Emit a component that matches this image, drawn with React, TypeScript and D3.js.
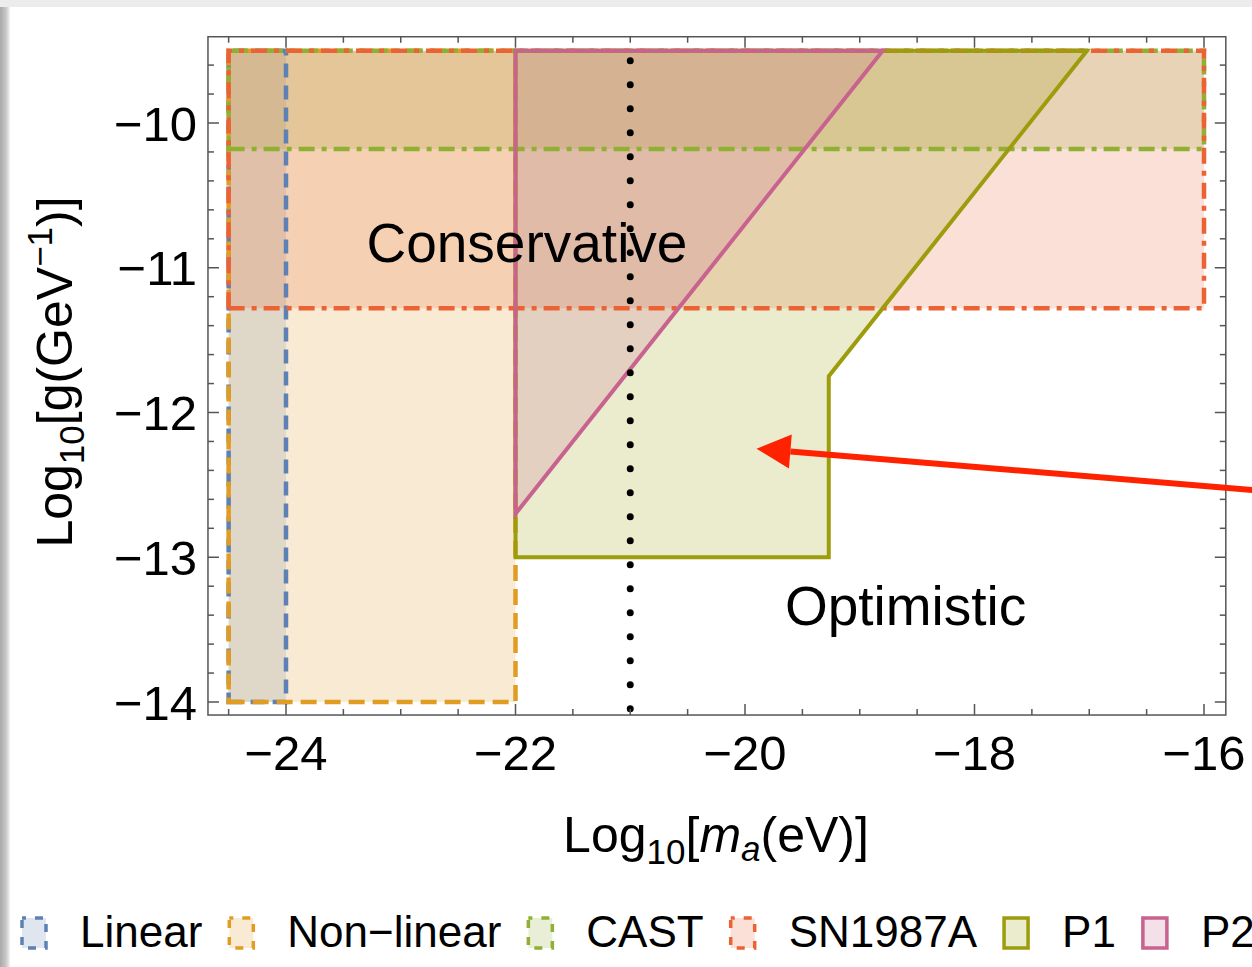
import React, { useRef, useEffect } from 'react';
import * as d3 from 'd3';

const W = 1252;
const H = 967;

// legend order
const regionNames = ['Linear', 'Non\u2212linear', 'CAST', 'SN1987A', 'P1', 'P2'];
const regionColors = ['#5e81b5', '#e19c24', '#8fb032', '#eb6235', '#9c9c0c', '#c8628f'];
const regionDash = ['14,8', '16,8', '16,7,5,7', '16,7,5,7', null, null];

// region outlines: log10 m_a (eV) and log10 g (GeV^-1)
const linearMa = [-24.5, -24, -24, -24.5];
const linearG = [-14, -14, -9.5, -9.5];
const nonlinearMa = [-24.5, -22, -22, -24.5];
const nonlinearG = [-14, -14, -9.5, -9.5];
const castMa = [-24.5, -16, -16, -24.5];
const castG = [-10.18, -10.18, -9.5, -9.5];
const snMa = [-24.5, -16, -16, -24.5];
const snG = [-11.28, -11.28, -9.5, -9.5];
const p1Ma = [-22, -19.27, -19.27, -17.02, -22];
const p1G = [-13, -13, -11.75, -9.5, -9.5];
const p2Ma = [-22, -18.8, -22];
const p2G = [-12.7, -9.5, -9.5];

const regionMa = [linearMa, nonlinearMa, castMa, snMa, p1Ma, p2Ma];
const regionG = [linearG, nonlinearG, castG, snG, p1G, p2G];

// dotted reference mass
const refMa = -21;

// axes
const xTicks = [-24, -22, -20, -18, -16];
const yTicks = [-14, -13, -12, -11, -10];

// annotations (data coords)
const notes = ['Conservative', 'Optimistic'];
const noteMa = [-21.9, -18.6];
const noteG = [-10.96, -13.47];
const arrowTip = [-19.9, -12.25];
const arrowTail = [-15.5, -12.54];

const FONT = '"Liberation Sans", Arial, Helvetica, sans-serif';
const minus = (v: number) => (v < 0 ? '\u2212' + Math.abs(v) : String(v));

const App = () => {
  const ref = useRef<SVGSVGElement>(null);

  useEffect(() => {
    const svg = d3.select(ref.current);
    svg.selectAll('*').remove();

    const x = d3.scaleLinear().domain([-24, -16]).range([286, 1204]);
    const y = d3.scaleLinear().domain([-14, -10]).range([702, 123]);
    const x0 = x(-24.68), x1 = x(-15.81);
    const y0 = y(-14.09), y1 = y(-9.404);

    // screenshot border
    const defs = svg.append('defs');
    const gr = defs.append('linearGradient').attr('id', 'edge');
    gr.append('stop').attr('offset', '0%').attr('stop-color', '#a9a9a9');
    gr.append('stop').attr('offset', '60%').attr('stop-color', '#c8c8c8');
    gr.append('stop').attr('offset', '100%').attr('stop-color', '#f4f4f4');
    svg.append('rect').attr('width', W).attr('height', H).attr('fill', '#fff');
    svg.append('rect').attr('width', W).attr('height', 7).attr('fill', '#ececec');
    svg.append('rect').attr('y', 7).attr('width', 10).attr('height', H - 7).attr('fill', 'url(#edge)');

    const line = d3.line<[number, number]>().x(d => x(d[0])).y(d => y(d[1]));
    const pts = (i: number) => regionMa[i].map((m, j) => [m, regionG[i][j]] as [number, number]);

    const plot = svg.append('g');
    regionNames.forEach((_, i) => {
      plot.append('path')
        .attr('d', line(pts(i)) + 'Z')
        .attr('fill', regionColors[i])
        .attr('fill-opacity', 0.2)
        .attr('stroke', 'none');
    });
    regionNames.forEach((_, i) => {
      plot.append('path')
        .attr('d', line(pts(i)) + 'Z')
        .attr('fill', 'none')
        .attr('stroke', regionColors[i])
        .attr('stroke-width', regionDash[i] ? 4.5 : 4)
        .attr('stroke-dasharray', regionDash[i] || null)
        .attr('stroke-linejoin', 'miter');
    });

    // dotted line
    plot.append('line')
      .attr('x1', x(refMa)).attr('x2', x(refMa))
      .attr('y1', y(-9.5) + 10).attr('y2', y0)
      .attr('stroke', '#000').attr('stroke-width', 7)
      .attr('stroke-linecap', 'round').attr('stroke-dasharray', '0,24');

    // frame
    const frame = svg.append('g').attr('stroke', '#555').attr('stroke-width', 1.5);
    frame.append('rect').attr('x', x0).attr('y', y1).attr('width', x1 - x0).attr('height', y0 - y1).attr('fill', 'none');
    const xMinor = d3.range(-24.5, -15.99, 0.5);
    const yMinor = d3.range(-14, -9.41, 0.2);
    xMinor.forEach(v => {
      const len = xTicks.some(t => Math.abs(t - v) < 1e-6) ? 11 : 6;
      frame.append('line').attr('x1', x(v)).attr('x2', x(v)).attr('y1', y0).attr('y2', y0 - len);
      frame.append('line').attr('x1', x(v)).attr('x2', x(v)).attr('y1', y1).attr('y2', y1 + len);
    });
    yMinor.forEach(v => {
      const len = yTicks.some(t => Math.abs(t - v) < 1e-6) ? 11 : 6;
      frame.append('line').attr('y1', y(v)).attr('y2', y(v)).attr('x1', x0).attr('x2', x0 + len);
      frame.append('line').attr('y1', y(v)).attr('y2', y(v)).attr('x1', x1).attr('x2', x1 - len);
    });

    const txt = svg.append('g').attr('font-family', FONT).attr('fill', '#000');
    xTicks.forEach(v => {
      txt.append('text').attr('x', x(v)).attr('y', 770).attr('text-anchor', 'middle')
        .attr('font-size', 49).text(minus(v));
    });
    yTicks.forEach(v => {
      txt.append('text').attr('x', 197).attr('y', y(v)).attr('dy', '0.36em').attr('text-anchor', 'end')
        .attr('font-size', 49).text(minus(v));
    });

    // x label
    const xl = txt.append('text').attr('x', 716).attr('y', 852).attr('text-anchor', 'middle').attr('font-size', 50);
    xl.append('tspan').text('Log');
    xl.append('tspan').attr('font-size', 35).attr('dy', 12).text('10');
    xl.append('tspan').attr('dy', -12).text('[');
    xl.append('tspan').attr('font-style', 'italic').text('m');
    xl.append('tspan').attr('font-style', 'italic').attr('font-size', 35).attr('dy', 9).text('a');
    xl.append('tspan').attr('dy', -9).text('(eV)]');

    // y label
    const yl = txt.append('text').attr('transform', 'translate(72,372) rotate(-90)')
      .attr('text-anchor', 'middle').attr('font-size', 50);
    yl.append('tspan').text('Log');
    yl.append('tspan').attr('font-size', 35).attr('dy', 12).text('10');
    yl.append('tspan').attr('dy', -12).text('[g(GeV');
    yl.append('tspan').attr('font-size', 35).attr('dy', -20).text('\u22121');
    yl.append('tspan').attr('dy', 20).text(')]');

    // annotations
    notes.forEach((n, i) => {
      txt.append('text').attr('x', x(noteMa[i])).attr('y', y(noteG[i])).attr('text-anchor', 'middle')
        .attr('font-size', 55).text(n);
    });

    const ax = x(arrowTip[0]), ay = y(arrowTip[1]);
    const bx = x(arrowTail[0]), by = y(arrowTail[1]);
    const ang = Math.atan2(by - ay, bx - ax);
    const hl = 34, hw = 17;
    const cx = ax + hl * Math.cos(ang), cy = ay + hl * Math.sin(ang);
    svg.append('line').attr('x1', bx).attr('y1', by).attr('x2', cx).attr('y2', cy)
      .attr('stroke', '#ff2200').attr('stroke-width', 6);
    svg.append('polygon')
      .attr('points', [
        [ax, ay],
        [cx - hw * Math.sin(ang), cy + hw * Math.cos(ang)],
        [cx + hw * Math.sin(ang), cy - hw * Math.cos(ang)],
      ].map(p => p.join(',')).join(' '))
      .attr('fill', '#ff2200');

    // legend
    const leg = svg.append('g').attr('font-family', FONT);
    let lx = 20;
    regionNames.forEach((n, i) => {
      leg.append('rect').attr('x', lx + 2).attr('y', 918).attr('width', 24).attr('height', 30)
        .attr('fill', regionColors[i]).attr('fill-opacity', 0.2)
        .attr('stroke', regionColors[i]).attr('stroke-width', 3.5)
        .attr('stroke-dasharray', regionDash[i] ? '8,9' : null)
        .attr('stroke-dashoffset', regionDash[i] ? 4 : null);
      const t = leg.append('text').attr('x', lx + 60).attr('y', 947).attr('font-size', 44).text(n);
      const w = (t.node() as SVGTextElement).getComputedTextLength();
      lx = lx + 60 + w + 25;
    });
  }, []);

  return (
    <svg ref={ref} width={W} height={H} style={{ position: 'absolute', left: 0, top: 0 }} />
  );
};

export default App;
